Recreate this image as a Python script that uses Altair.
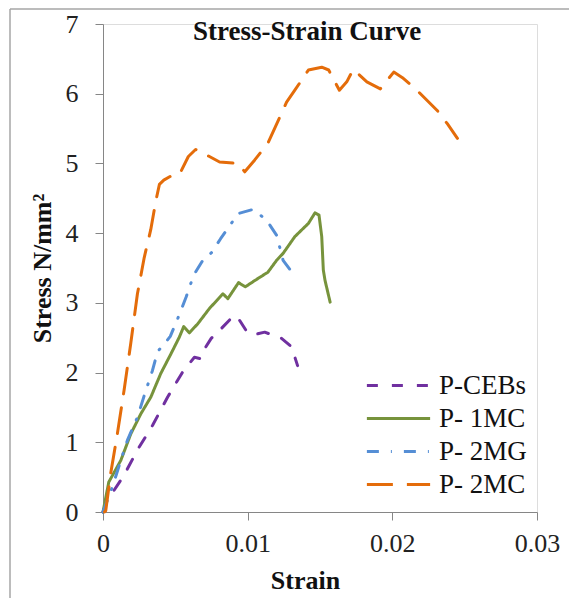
import altair as alt
import pandas as pd

# ---------------- data ----------------
series_names = ["P-CEBs", "P- 1MC", "P- 2MG", "P- 2MC"]
series_colors = ["#7030A0", "#77933C", "#558ED5", "#E46C0A"]
series_dashes = [[11, 14], [1, 0], [12, 12, 1, 12], [26, 14]]

cebs_strain = [0, 0.0004, 0.00076, 0.00146, 0.00238, 0.00342, 0.00447, 0.00551,
               0.00632, 0.00674, 0.0069, 0.00748, 0.00817, 0.00905, 0.00944,
               0.0099, 0.01037, 0.01118, 0.01234, 0.01303, 0.01345]
cebs_stress = [0, 0.24, 0.31, 0.53, 0.89, 1.24, 1.65, 2.01,
               2.22, 2.20, 2.30, 2.49, 2.63, 2.82, 2.75,
               2.60, 2.54, 2.58, 2.49, 2.37, 2.10]

mc1_strain = [0, 0.0004, 0.00123, 0.00192, 0.00262, 0.00331, 0.004, 0.0047,
              0.00528, 0.00558, 0.00597, 0.00655, 0.00736, 0.00829, 0.00863,
              0.00937, 0.00984, 0.01049, 0.0114, 0.012, 0.01245, 0.01326,
              0.0142, 0.01465, 0.01493, 0.01512, 0.01523, 0.01535, 0.0157]
mc1_stress = [0, 0.43, 0.74, 1.12, 1.41, 1.65, 1.99, 2.27,
              2.51, 2.66, 2.57, 2.70, 2.92, 3.13, 3.06,
              3.29, 3.23, 3.32, 3.44, 3.61, 3.71, 3.95,
              4.14, 4.29, 4.26, 3.95, 3.47, 3.32, 3.01]

mg2_strain = [0, 0.00065, 0.00123, 0.00169, 0.00238, 0.00285, 0.00342, 0.00377,
              0.00435, 0.00465, 0.00512, 0.00574, 0.00627, 0.0069, 0.0075,
              0.00813, 0.00887, 0.00933, 0.01037, 0.0113, 0.012, 0.01245, 0.01292]
mg2_stress = [0, 0.36, 0.74, 1.03, 1.36, 1.67, 2.03, 2.30,
              2.44, 2.52, 2.75, 3.08, 3.40, 3.61, 3.72,
              3.92, 4.14, 4.28, 4.34, 4.19, 3.97, 3.61, 3.48]

mc2_strain = [0.0001, 0.00019, 0.00053, 0.00099, 0.00146, 0.00192, 0.00238, 0.00285,
              0.0033, 0.00366, 0.0039, 0.0042, 0.0047, 0.0053, 0.0059, 0.0064,
              0.0069, 0.00806, 0.00933, 0.0098, 0.01049, 0.0114, 0.01269, 0.01326,
              0.0142, 0.01512, 0.0156, 0.01634, 0.01685, 0.0173, 0.01824, 0.01917,
              0.0201, 0.0207, 0.0216, 0.0231, 0.0238, 0.0245]
mc2_stress = [0, 0.02, 0.55, 1.12, 1.75, 2.42, 3.13, 3.65,
              4.05, 4.47, 4.70, 4.76, 4.82, 4.85, 5.10, 5.20,
              5.15, 5.02, 5.00, 4.88, 5.05, 5.29, 5.88, 6.05,
              6.34, 6.38, 6.34, 6.05, 6.17, 6.35, 6.17, 6.07,
              6.31, 6.23, 6.07, 5.76, 5.57, 5.36]

x_ticks = [0, 0.01, 0.02, 0.03]
y_ticks = [0, 1, 2, 3, 4, 5, 6, 7]

rows = []
for name, xs, ys in zip(series_names,
                        [cebs_strain, mc1_strain, mg2_strain, mc2_strain],
                        [cebs_stress, mc1_stress, mg2_stress, mc2_stress]):
    for i, (sx, sy) in enumerate(zip(xs, ys)):
        rows.append({"series": name, "strain": sx, "stress": sy, "order": i})
df = pd.DataFrame(rows)

W, H = 434, 488
SERIF = "Liberation Serif"
AX = "#868686"

legend = alt.Legend(
    title=None, orient="none", legendX=262, legendY=345,
    symbolType="stroke", symbolSize=4000, symbolStrokeWidth=3,
    clipHeight=33, rowPadding=0, padding=0, labelOffset=7,
    labelFont=SERIF, labelFontSize=27, labelColor="#111",
    labelLimit=300,
)

lines = alt.Chart(df).mark_line(strokeWidth=3, strokeCap="round", strokeJoin="round").encode(
    x=alt.X("strain:Q",
            scale=alt.Scale(domain=[0, 0.03], nice=False, zero=False),
            axis=alt.Axis(values=x_ticks,
                          labelExpr="datum.value == 0 ? '0' : format(datum.value, '.2f')",
                          title="Strain", titleFont=SERIF, titleFontSize=26,
                          titleFontWeight="bold", titleColor="#111",
                          titleX=202, titleY=76, titleBaseline="alphabetic",
                          titleAlign="center",
                          labelFont=SERIF, labelFontSize=26, labelColor="#222",
                          labelPadding=10, labelFlush=False, labelOverlap=False,
                          domainColor=AX, tickColor=AX, tickSize=8, grid=False)),
    y=alt.Y("stress:Q",
            scale=alt.Scale(domain=[0, 7], nice=False),
            axis=alt.Axis(values=y_ticks, format="d",
                          title="Stress  N/mm²", titleFont=SERIF, titleFontSize=26,
                          titleFontWeight="bold", titleColor="#111",
                          titleAngle=270, titleX=-61, titleY=244,
                          titleAlign="center", titleBaseline="middle",
                          labelFont=SERIF, labelFontSize=26, labelColor="#222",
                          labelPadding=17, labelFlush=False, labelOverlap=False,
                          domainColor=AX, tickColor=AX, tickSize=8, grid=False)),
    color=alt.Color("series:N",
                    scale=alt.Scale(domain=series_names, range=series_colors),
                    legend=legend),
    strokeDash=alt.StrokeDash("series:N",
                              scale=alt.Scale(domain=series_names, range=series_dashes),
                              legend=legend),
    order="order:Q",
)

one = pd.DataFrame({"k": [0]})
title_text = alt.Chart(one).mark_text(
    text="Stress-Strain Curve", font=SERIF, fontSize=27, fontWeight="bold",
    color="#111", align="center", baseline="alphabetic",
).encode(x=alt.value(204), y=alt.value(16))

frame_left = alt.Chart(one).mark_rule(color="#a6a6a6", strokeWidth=1.5).encode(
    x=alt.value(-93), y=alt.value(-15), y2=alt.value(H + 90))
frame_top = alt.Chart(one).mark_rule(color="#a6a6a6", strokeWidth=1.5).encode(
    x=alt.value(-93), x2=alt.value(W + 40), y=alt.value(-15))

chart = alt.layer(frame_left, frame_top, lines, title_text).properties(
    width=W, height=H,
    autosize=alt.AutoSizeParams(type="none"),
    padding={"left": 95, "top": 16, "right": 32, "bottom": 86},
).configure_view(stroke=None).configure(background="white")

chart.save("out.html", embed_options={"renderer": "svg", "actions": False})
